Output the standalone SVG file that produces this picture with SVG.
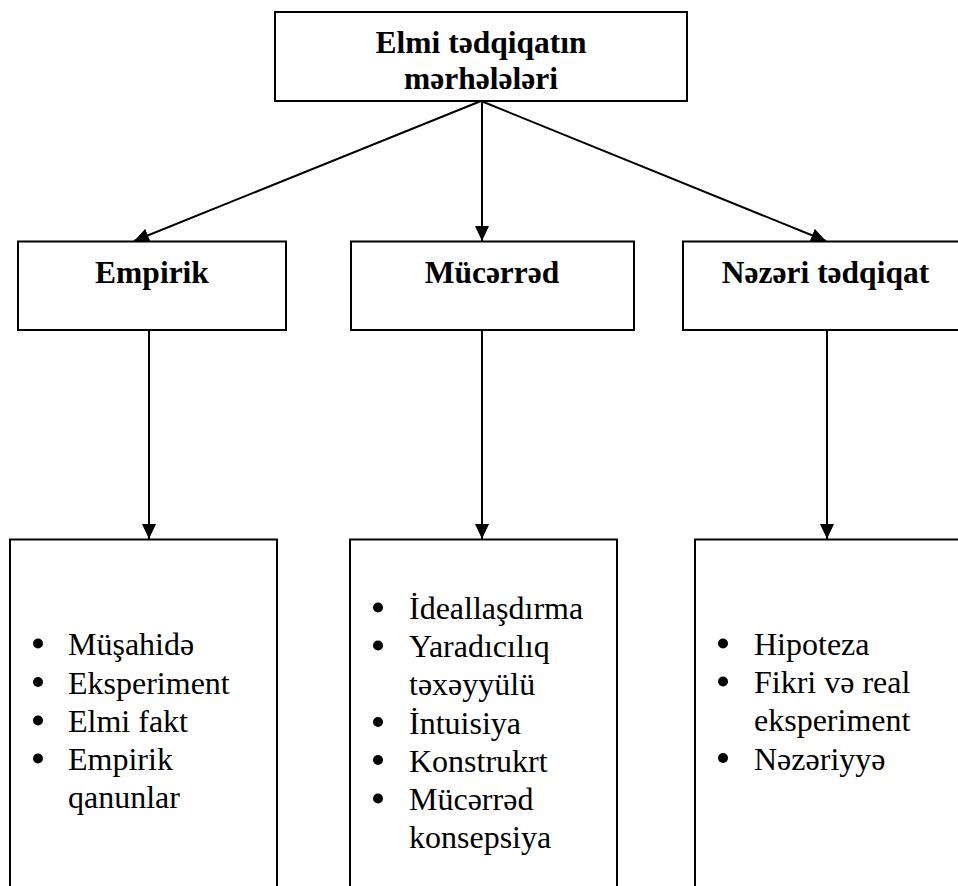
<svg xmlns="http://www.w3.org/2000/svg" width="958" height="886" viewBox="0 0 958 886">
<style>
.box{fill:#fff;stroke:#000;stroke-width:2}
.ttl{font-weight:bold;font-size:31.5px;text-anchor:middle;fill:#000}
.itm{font-size:32px;fill:#000}
.con{stroke:#000;stroke-width:2;fill:none;marker-end:url(#ah)}
.bul{fill:#000}
</style>
<defs>
<marker id="ah" viewBox="0 0 15 14" refX="15" refY="7" markerWidth="15" markerHeight="14" markerUnits="userSpaceOnUse" orient="auto">
<path d="M0,0 L15,7 L0,14 Z" fill="#000"/>
</marker>
</defs>
<rect width="958" height="886" fill="#fff"/>
<g id="connectors">
<line class="con" x1="481" y1="101" x2="134" y2="241"/>
<line class="con" x1="482" y1="101" x2="482" y2="241"/>
<line class="con" x1="481" y1="101" x2="826" y2="241"/>
<line class="con" x1="149" y1="330" x2="149" y2="539"/>
<line class="con" x1="482" y1="330" x2="482" y2="539"/>
<line class="con" x1="827" y1="330" x2="827" y2="539"/>
</g>
<g font-family="Liberation Serif, Times New Roman, DejaVu Serif, serif">
<g id="root">
<rect class="box" x="275" y="12" width="412" height="89"/>
<text class="ttl" x="481" y="53">Elmi tədqiqatın</text>
<text class="ttl" x="481" y="89">mərhələləri</text>
</g>
<g id="empirik">
<rect class="box" x="18" y="241.5" width="268" height="88.5"/>
<text class="ttl" x="152" y="283">Empirik</text>
</g>
<g id="mucerred">
<rect class="box" x="351" y="241.5" width="283" height="88.5"/>
<text class="ttl" x="492" y="283">Mücərrəd</text>
</g>
<g id="nezeri">
<rect class="box" x="683" y="241.5" width="290" height="88.5"/>
<text class="ttl" x="825.5" y="283">Nəzəri tədqiqat</text>
</g>
<g id="empirik-list">
<rect class="box" x="10" y="539.5" width="267" height="360"/>
<circle class="bul" cx="38" cy="643.5" r="5"/>
<circle class="bul" cx="38" cy="682" r="5"/>
<circle class="bul" cx="38" cy="720.5" r="5"/>
<circle class="bul" cx="38" cy="758.5" r="5"/>
<text class="itm" x="68" y="655">Müşahidə</text>
<text class="itm" x="68" y="693.5">Eksperiment</text>
<text class="itm" x="68" y="732">Elmi fakt</text>
<text class="itm" x="68" y="770">Empirik</text>
<text class="itm" x="68" y="808">qanunlar</text>
</g>
<g id="mucerred-list">
<rect class="box" x="350" y="539.5" width="267" height="360"/>
<circle class="bul" cx="378" cy="607.5" r="5"/>
<circle class="bul" cx="378" cy="645.5" r="5"/>
<circle class="bul" cx="378" cy="722" r="5"/>
<circle class="bul" cx="378" cy="760" r="5"/>
<circle class="bul" cx="378" cy="798.5" r="5"/>
<text class="itm" x="409" y="619">İdeallaşdırma</text>
<text class="itm" x="409" y="657">Yaradıcılıq</text>
<text class="itm" x="409" y="695">təxəyyülü</text>
<text class="itm" x="409" y="733.5">İntuisiya</text>
<text class="itm" x="409" y="771.5">Konstrukrt</text>
<text class="itm" x="409" y="810">Mücərrəd</text>
<text class="itm" x="409" y="848">konsepsiya</text>
</g>
<g id="nezeri-list">
<rect class="box" x="695" y="539.5" width="280" height="360"/>
<circle class="bul" cx="723" cy="643.5" r="5"/>
<circle class="bul" cx="723" cy="681.5" r="5"/>
<circle class="bul" cx="723" cy="758" r="5"/>
<text class="itm" x="754" y="655">Hipoteza</text>
<text class="itm" x="754" y="693">Fikri və real</text>
<text class="itm" x="754" y="731">eksperiment</text>
<text class="itm" x="754" y="769.5">Nəzəriyyə</text>
</g>
</g>
</svg>
